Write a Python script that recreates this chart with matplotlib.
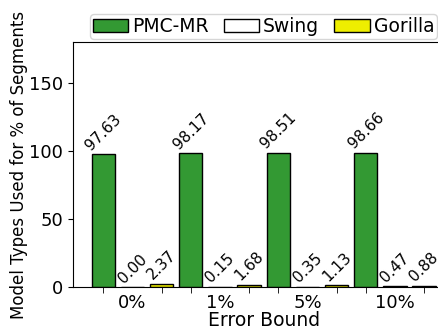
import numpy as np
import matplotlib.pyplot as plt

bounds = ['0%', '1%', '5%', '10%']
pmc_mr = [97.63, 98.17, 98.51, 98.66]
swing = [0.00, 0.15, 0.35, 0.47]
gorilla = [2.37, 1.68, 1.13, 0.88]

fig = plt.figure(figsize=(4.39, 3.28), dpi=100)
ax = fig.add_axes([0.166, 0.125, 0.87, 0.747])

x = np.arange(len(bounds)) * 3
w = 0.8
series = [(pmc_mr, 'PMC-MR', '#339933'), (swing, 'Swing', 'white'), (gorilla, 'Gorilla', '#eeee00')]
for i, (vals, name, col) in enumerate(series):
    bars = ax.bar(x + i, vals, w, color=col, edgecolor='black', linewidth=1, label=name)
    for b, v in zip(bars, vals):
        ax.text(b.get_x() + b.get_width() / 2, v + 1, '%.2f' % v,
                rotation=45, ha='center', va='bottom', fontsize=11)

ax.set_xlim(-1.04, 12.05)
ax.set_ylim(0, 180)
ax.set_yticks([0, 50, 100, 150])
ax.set_xticks(x + 1)
ax.set_xticklabels(bounds)
ax.tick_params(axis='x', which='major', length=0, pad=5)
ax.set_xticks(np.concatenate([x, x + 2]), minor=True)
ax.tick_params(axis='x', which='minor', length=4)
ax.tick_params(labelsize=13)
ax.spines['right'].set_visible(False)
ax.set_xlabel('Error Bound', fontsize=13.5, labelpad=-1)
ax.set_ylabel('Model Types Used for % of Segments', fontsize=12, labelpad=1)

fig.legend(*ax.get_legend_handles_labels(), loc='lower left',
           bbox_to_anchor=(90 / 439, 1 - 39 / 328), ncol=3, fontsize=13.5,
           handlelength=1.9, handletextpad=0.2, columnspacing=0.8,
           borderpad=0.15, borderaxespad=0.0, frameon=True)

fig.savefig('out.png')
